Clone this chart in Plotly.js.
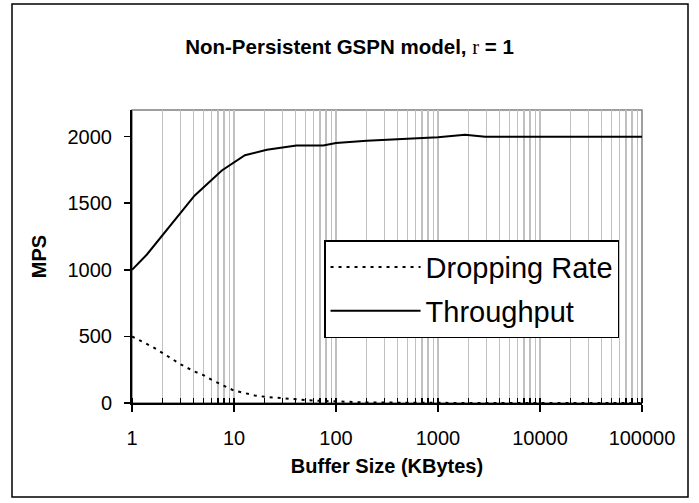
<!DOCTYPE html>
<html>
<head>
<meta charset="utf-8">
<script src="https://cdn.plot.ly/plotly-3.0.1.min.js"></script>
<style>
  html, body { margin: 0; padding: 0; background: #fff; }
  #chart { width: 699px; height: 503px; }
</style>
</head>
<body>
<div id="chart"></div>
<script>
// Buffer size (KBytes) and MPS values
const throughputX = [1, 1.4, 4.1, 7.6, 12.8, 21, 41, 75, 100, 200, 1000, 1840, 2900, 10000, 100000];
const throughputY = [1000, 1115, 1557, 1746, 1860, 1902, 1934, 1934, 1952, 1970, 1995, 2015, 2000, 2000, 2000];

const droppingX = [1, 1.3, 1.6, 2, 2.5, 3, 4, 5, 6, 7, 8.5, 10, 13, 16, 20, 25, 32, 40, 50, 65, 100, 200, 1000, 10000, 100000];
const droppingY = [500, 455, 420, 375, 330, 290, 240, 210, 175, 150, 118, 93, 73, 56, 47, 40, 33, 28, 22, 17, 10, 4, 1, 0, 0];

const seriesNames = ['Dropping Rate', 'Throughput'];
const xTickVals = [1, 10, 100, 1000, 10000, 100000];
const xTickText = ['1', '10', '100', '1000', '10000', '100000'];
const yTickVals = [0, 500, 1000, 1500, 2000];

const FONT = 'Liberation Sans, Arial, sans-serif';

const traces = [
  {
    x: droppingX, y: droppingY, name: seriesNames[0], type: 'scatter', mode: 'lines',
    line: { color: '#000', width: 2, dash: '3px,5px' }, legendgroup: 'a'
  },
  {
    x: throughputX, y: throughputY, name: seriesNames[1], type: 'scatter', mode: 'lines',
    line: { color: '#000', width: 2 }, legendgroup: 'b'
  }
];

const layout = {
  width: 699, height: 503,
  margin: { l: 132, r: 57, t: 110, b: 100 },
  paper_bgcolor: '#fff', plot_bgcolor: '#fff',
  font: { family: FONT, color: '#000', size: 20 },
  title: {
    text: '<b>Non-Persistent GSPN model, </b><span style="font-family:Liberation Serif, Times New Roman, serif;font-weight:normal">r</span><b> = 1</b>',
    font: { family: FONT, size: 20.5, color: '#000' },
    x: 0.5, xref: 'container', xanchor: 'center',
    y: 1 - 47 / 503, yref: 'container', yanchor: 'middle'
  },
  xaxis: {
    type: 'log', range: [0, 5],
    tickvals: xTickVals, ticktext: xTickText,
    ticks: 'outside', ticklen: 7, tickwidth: 1.5, tickcolor: '#000',
    ticklabelstandoff: 9,
    showline: true, linecolor: '#000', linewidth: 2,
    showgrid: true, gridcolor: '#c0c0c0', gridwidth: 1.5,
    zeroline: false,
    minor: { dtick: 'D1', ticks: 'inside', ticklen: 5, tickwidth: 1.5, tickcolor: '#000', showgrid: true, gridcolor: '#c0c0c0', gridwidth: 1.5 },
    tickfont: { size: 20 },
    title: { text: '<b>Buffer Size (KBytes)</b>', font: { size: 20 }, standoff: 11 },
    automargin: false
  },
  yaxis: {
    range: [0, 2200],
    tickvals: yTickVals,
    ticks: 'outside', ticklen: 6, tickwidth: 1.5, tickcolor: '#000',
    ticklabelstandoff: 8,
    showline: true, linecolor: '#000', linewidth: 2,
    showgrid: false, zeroline: false,
    tickfont: { size: 20 },
    title: { text: '<b>MPS</b>', font: { size: 20 }, standoff: 16 },
    automargin: false
  },
  showlegend: true,
  legend: {
    x: 0.955, xanchor: 'right', y: 0.556, yanchor: 'top',
    bgcolor: '#fff', bordercolor: '#000', borderwidth: 1.5,
    font: { family: FONT, size: 29, color: '#000' },
    traceorder: 'grouped', tracegroupgap: 3,
    itemwidth: 90
  },
  shapes: [
    { type: 'rect', xref: 'paper', yref: 'paper', x0: 0, x1: 1, y0: 0, y1: 1,
      line: { color: '#808080', width: 1.5 }, layer: 'below' },
    { type: 'rect', xref: 'paper', yref: 'paper',
      x0: (12 - 132) / 510, x1: (688 - 132) / 510, y0: (403 - 497) / 293, y1: (403 - 4) / 293,
      line: { color: '#000', width: 1.5 }, layer: 'below' }
  ]
};

Plotly.newPlot('chart', traces, layout, { staticPlot: true, displayModeBar: false });
</script>
</body>
</html>
